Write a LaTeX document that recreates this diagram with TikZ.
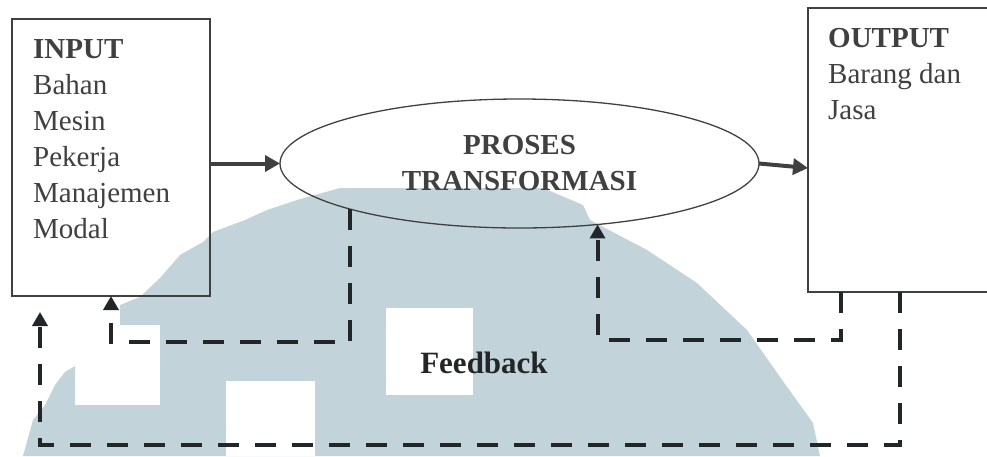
\documentclass[tikz,border=0pt]{standalone}
\usepackage{fontspec}
\setmainfont{Liberation Serif}
\usetikzlibrary{arrows.meta,shapes.geometric}
\definecolor{wm}{RGB}{194,211,218}
\definecolor{ink}{RGB}{64,64,64}
\definecolor{dk}{RGB}{35,38,40}
\begin{document}
\begin{tikzpicture}[x=1pt,y=-1pt,
  box/.style={draw=ink, line width=1.6pt, inner sep=0pt, outer sep=0pt, anchor=north west},
  txt/.style={anchor=base west, inner sep=0pt, text=ink, font=\fontsize{29}{36}\selectfont},
  flow/.style={draw=ink, line width=4pt, -{Triangle[length=15pt,width=16pt]}},
  fb/.style={draw=dk, line width=4pt, dash pattern=on 21pt off 16pt, -{Triangle[length=14pt,width=15pt]}}]
\useasboundingbox (0,0) rectangle (987,456);
% watermark
\fill[wm] (23,456) -- (33,420) -- (45,405) -- (55,385) -- (65,372) -- (75,366) -- (75,405) -- (160,405) -- (160,325) -- (120,325) -- (120,305) -- (140,297) -- (160,278) -- (180,255) -- (203,242) -- (213,232) -- (245,220) -- (267,210) -- (297,200) -- (340,188) -- (543,188) -- (583,205) -- (590,220) -- (647,250) -- (697,283) -- (747,330) -- (780,377) -- (813,423) -- (820,456) -- cycle;
\fill[white] (386,308) rectangle (473,395);
\fill[white] (226,381) rectangle (315,456);
% boxes
\node[box, minimum width=198pt, minimum height=277pt] (inbox) at (12,19) {};
\node[box, minimum width=200pt, minimum height=284pt] (outbox) at (808,8) {};
\node[draw=ink, line width=1.3pt, ellipse, minimum width=479pt, minimum height=129pt,
      inner sep=0pt, outer sep=0pt, align=center, text=ink,
      font=\fontsize{29}{36}\selectfont\bfseries] (proc) at (519.5,163.5) {PROSES\\TRANSFORMASI};
% texts
\foreach \t [count=\i] in {\textbf{INPUT}, Bahan, Mesin, Pekerja, Manajemen, Modal}
  \node[txt] (inl\i) at (33,{22+36*\i}) {\t};
\foreach \t [count=\i] in {\textbf{OUTPUT}, Barang dan, Jasa}
  \node[txt] (outl\i) at (828,{11+36*\i}) {\t};
\node[anchor=base, inner sep=0pt, text=dk, font=\fontsize{31}{36}\selectfont\bfseries] (fbl) at (484,373) {Feedback};
% main flow
\draw[flow] (inbox.east |- proc.west) -- (proc.west);
\coordinate (o1) at (808,168);
\draw[flow] (proc.east) -- (o1);
% feedback loops
\coordinate (c1) at (350,342);
\draw[fb] (proc.195) |- (inbox.south |- c1) -- (inbox.south);
\coordinate (c2) at (841,340);
\draw[fb] (outbox.south -| c2) -- (c2) -| (proc.322);
\coordinate (c3) at (900,445);
\coordinate (t3) at (40,312);
\draw[fb] (outbox.south -| c3) -- (c3) -| (t3);
\end{tikzpicture}
\end{document}
